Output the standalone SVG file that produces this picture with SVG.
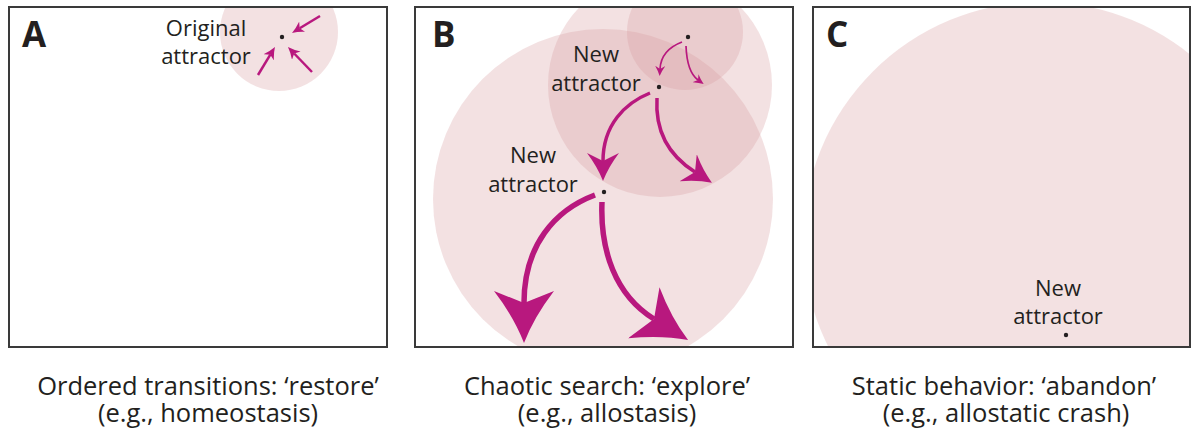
<svg xmlns="http://www.w3.org/2000/svg" width="1191" height="440" viewBox="0 0 1191 440">
<style>
.frame{fill:none;stroke:#3a3a3a;stroke-width:2}
.bg{fill:#ffffff}
.basin{fill:#d89aa0;fill-opacity:0.3}
.dot{fill:#231f20}
.lbl{font-family:"Open Sans","Liberation Sans",sans-serif;font-size:22px;fill:#231f20;text-anchor:middle}
.panel{font-family:"Open Sans","Liberation Sans",sans-serif;font-size:35px;font-weight:bold;fill:#231f20}
.cap{font-family:"Open Sans","Liberation Sans",sans-serif;font-size:25.5px;fill:#231f20;text-anchor:middle}
.arr{fill:none;stroke:#b8187e;stroke-linecap:butt}
.a1{stroke-width:2.5;marker-end:url(#hA)}
.s{stroke-width:1.7;marker-end:url(#hS)}
.m{stroke-width:3.5;marker-end:url(#hM)}
.l{stroke-width:5.5;marker-end:url(#hL)}
.head{fill:#b8187e}
</style>
<defs>
<clipPath id="clipA"><rect x="9" y="7" width="378" height="340"/></clipPath>
<clipPath id="clipB"><rect x="415" y="7" width="378" height="340"/></clipPath>
<clipPath id="clipC"><rect x="813" y="7" width="377" height="340"/></clipPath>
<marker id="hA" viewBox="0 -6 12 12" markerWidth="12" markerHeight="12" refX="3" refY="0" orient="auto" markerUnits="userSpaceOnUse"><path class="head" d="M0,-6 Q6,-2 12,0 Q6,2 0,6 L3,0 Z"/></marker>
<marker id="hS" viewBox="0 -5 10 10" markerWidth="10" markerHeight="10" refX="3" refY="0" orient="auto" markerUnits="userSpaceOnUse"><path class="head" d="M0,-5 Q5,-1.8 10,0 Q5,1.8 0,5 L3,0 Z"/></marker>
<marker id="hM" viewBox="0 -16 28 32" markerWidth="28" markerHeight="32" refX="8" refY="0" orient="auto" markerUnits="userSpaceOnUse"><path class="head" d="M0,-16 Q14,-5.5 28,0 Q14,5.5 0,16 L8,0 Z"/></marker>
<marker id="hL" viewBox="0 -30 52 60" markerWidth="52" markerHeight="60" refX="12" refY="0" orient="auto" markerUnits="userSpaceOnUse"><path class="head" d="M0,-30 Q26,-10 52,0 Q26,10 0,30 L12,0 Z"/></marker>
</defs>

<g id="panel-a">
<rect class="bg" x="9" y="7" width="378" height="340"/>
<g clip-path="url(#clipA)"><circle class="basin" cx="279" cy="32" r="59"/></g>
<rect class="frame" x="9" y="7" width="378" height="340"/>
<text class="panel" x="22" y="47">A</text>
</g>
<g id="panel-b">
<rect class="bg" x="415" y="7" width="378" height="340"/>
<g clip-path="url(#clipB)">
<circle class="basin" cx="603" cy="199" r="170"/>
<circle class="basin" cx="660" cy="85" r="112"/>
<circle class="basin" cx="685" cy="32" r="58"/>
</g>
<rect class="frame" x="415" y="7" width="378" height="340"/>
<text class="panel" x="432" y="47">B</text>
</g>
<g id="panel-c">
<rect class="bg" x="813" y="7" width="377" height="340"/>
<g clip-path="url(#clipC)"><circle class="basin" cx="1041" cy="240" r="238"/></g>
<rect class="frame" x="813" y="7" width="377" height="340"/>
<text class="panel" x="826" y="47">C</text>
</g>

<g id="connectors">
<line class="arr a1" x1="320" y1="16" x2="299.7" y2="28.3"/>
<line class="arr a1" x1="258" y1="75" x2="270.3" y2="54.7"/>
<line class="arr a1" x1="312" y1="72" x2="294.2" y2="53.5"/>
<path class="arr s" d="M682,42 Q661,50 660,69"/>
<path class="arr s" d="M686,46 Q687,72 698,80"/>
<path class="arr m" d="M650,93 C625,103 603,125 603,161"/>
<path class="arr m" d="M657,98 C655,130 668,155 695,172"/>
<path class="arr l" d="M595,195 C555,210 524,245 524,303"/>
<path class="arr l" d="M602,202 C600,250 615,295 654,319"/>
</g>

<g id="original-attractor">
<circle class="dot" cx="282" cy="37" r="2.2"/>
<text class="lbl" x="206" y="36">Original<tspan x="206" y="64">attractor</tspan></text>
</g>
<g id="b-start">
<circle class="dot" cx="688" cy="37" r="2.2"/>
</g>
<g id="b-new-attractor-1">
<circle class="dot" cx="659" cy="87" r="2.2"/>
<text class="lbl" x="596" y="62">New<tspan x="596" y="91">attractor</tspan></text>
</g>
<g id="b-new-attractor-2">
<circle class="dot" cx="604" cy="192" r="2.2"/>
<text class="lbl" x="533" y="163">New<tspan x="533" y="192">attractor</tspan></text>
</g>
<g id="c-new-attractor">
<circle class="dot" cx="1066" cy="335" r="2.2"/>
<text class="lbl" x="1058" y="296">New<tspan x="1058" y="324">attractor</tspan></text>
</g>

<g id="captions">
<text class="cap" x="208" y="395">Ordered transitions: ‘restore’<tspan x="208" y="422">(e.g., homeostasis)</tspan></text>
<text class="cap" x="607" y="395">Chaotic search: ‘explore’<tspan x="607" y="422">(e.g., allostasis)</tspan></text>
<text class="cap" x="1004" y="395">Static behavior: ‘abandon’<tspan x="1006" y="422">(e.g., allostatic crash)</tspan></text>
</g>
</svg>
